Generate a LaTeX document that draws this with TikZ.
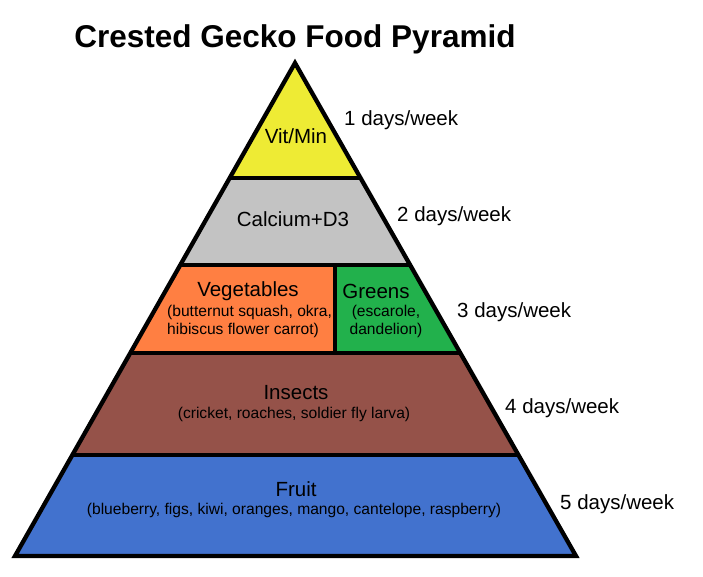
\documentclass[tikz,border=0pt]{standalone}
\usepackage{fontspec}
\setmainfont{Liberation Sans}
\usetikzlibrary{calc}
\definecolor{cyellow}{RGB}{238,235,52}
\definecolor{cgray}{RGB}{195,195,195}
\definecolor{corange}{RGB}{255,127,66}
\definecolor{cgreen}{RGB}{34,177,76}
\definecolor{cbrown}{RGB}{149,82,73}
\definecolor{cblue}{RGB}{66,114,206}
\tikzset{
  edge/.style={line width=4.3pt, line join=miter},
  txt/.style={inner sep=0pt, yshift=-2pt},
  lbl/.style={txt, font=\fontsize{20.5}{24}\selectfont},
  sub/.style={txt, font=\fontsize{15.6}{18.5}\selectfont},
  days/.style={txt, anchor=west, font=\fontsize{20.5}{24}\selectfont},
  ttl/.style={txt, font=\fontsize{31.5}{36}\selectfont\bfseries}
}
\begin{document}
\begin{tikzpicture}[x=1pt,y=-1pt]
\useasboundingbox (0,0) rectangle (703,576);
\fill[white] (0,0) rectangle (703,576);
\coordinate (A) at (295,63);
\coordinate (L) at (15,556);
\coordinate (R) at (576,556);
\coordinate (l1) at ($(A)!0.2333!(L)$);
\coordinate (r1) at ($(A)!0.2333!(R)$);
\coordinate (l2) at ($(A)!0.4097!(L)$);
\coordinate (r2) at ($(A)!0.4097!(R)$);
\coordinate (l3) at ($(A)!0.5882!(L)$);
\coordinate (r3) at ($(A)!0.5882!(R)$);
\coordinate (l4) at ($(A)!0.7951!(L)$);
\coordinate (r4) at ($(A)!0.7951!(R)$);
\coordinate (dt) at (335,265);
\coordinate (db) at (335,353);
% fills
\fill[cyellow] (A) -- (r1) -- (l1) -- cycle;
\fill[cgray] (l1) -- (r1) -- (r2) -- (l2) -- cycle;
\fill[corange] (l2) -- (dt) -- (db) -- (l3) -- cycle;
\fill[cgreen] (dt) -- (r2) -- (r3) -- (db) -- cycle;
\fill[cbrown] (l3) -- (r3) -- (r4) -- (l4) -- cycle;
\fill[cblue] (l4) -- (r4) -- (R) -- (L) -- cycle;
% lines
\draw[edge] (A) -- (R) -- (L) -- cycle;
\draw[edge] (l1) -- (r1);
\draw[edge] (l2) -- (r2);
\draw[edge] (l3) -- (r3);
\draw[edge] (l4) -- (r4);
\draw[edge] (dt) -- (db);
% texts
\node[ttl] (title) at (295,37) {Crested Gecko Food Pyramid};
\node[lbl] (vit) at (296,134) {Vit/Min};
\node[days] (d1) at (344,118) {1 days/week};
\node[lbl] (cal) at (293,217) {Calcium+D3};
\node[days] (d2) at (397,214) {2 days/week};
\node[lbl] (veg) at (248,289) {Vegetables};
\node[sub, anchor=west] (veg1) at (167,310) {(butternut squash, okra,};
\node[sub, anchor=west] (veg2) at (167,328) {hibiscus flower carrot)};
\node[lbl] (grn) at (376,289) {Greens};
\node[sub] (grn1) at (386,310) {(escarole,};
\node[sub] (grn2) at (386,328) {dandelion)};
\node[days] (d3) at (457,310) {3 days/week};
\node[lbl] (ins) at (296,391) {Insects};
\node[sub] (ins1) at (294,412) {(cricket, roaches, soldier fly larva)};
\node[days] (d4) at (505,406) {4 days/week};
\node[lbl] (frt) at (296,487) {Fruit};
\node[sub] (frt1) at (294,508) {(blueberry, figs, kiwi, oranges, mango, cantelope, raspberry)};
\node[days] (d5) at (560,502) {5 days/week};
\end{tikzpicture}
\end{document}
